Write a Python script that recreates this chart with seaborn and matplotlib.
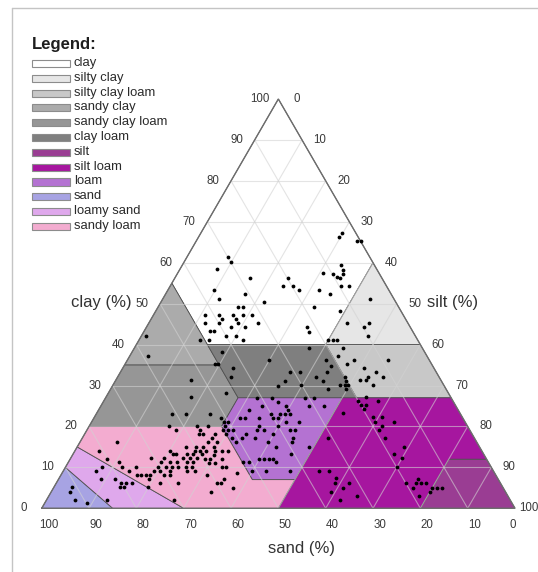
import numpy as np
import pandas as pd
import matplotlib
matplotlib.use("Agg")
import matplotlib.pyplot as plt
import seaborn as sns
from matplotlib.patches import Polygon, Rectangle
from matplotlib.lines import Line2D

# ---------------- data ----------------
class_names = ["clay", "silty clay", "silty clay loam", "sandy clay", "sandy clay loam",
               "clay loam", "silt", "silt loam", "loam", "sand", "loamy sand", "sandy loam"]
class_colors = ["#ffffff", "#e6e6e6", "#c8c8c8", "#ababab", "#969696", "#7f7f7f",
                "#9a3d93", "#a6169f", "#b472d2", "#a7a3e3", "#dfa8ec", "#f3acd0"]
# class boundaries, vertices as (clay %, silt %); sand = 100 - clay - silt
clay_poly = [(55, 0), (100, 0), (60, 40), (40, 40), (40, 15)]
silty_clay_poly = [(60, 40), (40, 60), (40, 40)]
silty_clay_loam_poly = [(27, 53), (27, 73), (40, 60), (40, 40)]
sandy_clay_poly = [(35, 0), (55, 0), (35, 20)]
sandy_clay_loam_poly = [(20, 0), (20, 28), (27, 28), (35, 20), (35, 0)]
clay_loam_poly = [(27, 28), (27, 53), (40, 40), (40, 15)]
silt_poly = [(0, 80), (0, 100), (12, 88), (12, 80)]
silt_loam_poly = [(0, 50), (0, 80), (12, 80), (12, 88), (27, 73), (27, 50), (7, 50)]
loam_poly = [(7, 41), (7, 50), (27, 50), (27, 28), (20, 28)]
sand_poly = [(0, 0), (0, 15), (10, 0)]
loamy_sand_poly = [(0, 15), (0, 30), (15, 0), (10, 0)]
sandy_loam_poly = [(0, 30), (0, 50), (7, 50), (7, 41), (20, 28), (20, 0), (15, 0)]
class_polys = [clay_poly, silty_clay_poly, silty_clay_loam_poly, sandy_clay_poly,
               sandy_clay_loam_poly, clay_loam_poly, silt_poly, silt_loam_poly,
               loam_poly, sand_poly, loamy_sand_poly, sandy_loam_poly]

tick_values = [0, 10, 20, 30, 40, 50, 60, 70, 80, 90, 100]
tick_labels = ["0", "10", "20", "30", "40", "50", "60", "70", "80", "90", "100"]

sample_clay = [
    61.3, 60.2, 58.4, 56.3, 56.3, 54.2, 54.2, 53.3, 53.3, 52.4, 51.2, 50.3,
    57.4, 57.2, 56.5, 59.4, 58.2, 57.2, 56.3, 54.3, 54.2, 66.2, 67.3, 65.3, 65.3,
    53.3, 52.4, 49.3, 49.3, 49.3, 47.2, 47.2, 47.2, 47.2, 47.2, 46.2, 46.2,
    45.2, 45.2, 45.2, 45.2, 44.2, 44.2, 44.2, 43.1, 43.2, 43.2, 42.2, 42.2,
    41.1, 41.1, 41.1, 41.1, 41.1, 41.1,
    51.1, 48.3, 45.2, 44.2, 45.2, 42.2,
    38.3, 39.2, 39.1, 35.2, 35.2, 36.2, 34.2, 32.2, 33.2, 33.2, 31.2, 30.0,
    30.1, 32.2, 31.2, 29.1, 36.2, 34.8, 33.4, 28.2, 37.2, 35.3, 36.2, 36.2,
    34.2, 33.2, 32.2, 31.3, 31.3, 32.2, 30.1, 32.2, 31.1, 30.1, 30.1, 29.1, 30.1,
    42.1, 37.2, 31.3, 27.1, 23.1, 23.1, 23.1,
    20.1, 19.2, 20.1, 18.1, 16.1, 14.1, 15.0, 15.0, 14.1, 14.1, 13.2, 13.2,
    13.2, 13.2, 12.2, 12.2, 12.2, 12.2, 12.2, 12.0, 11.2, 11.2, 11.2, 11.2,
    11.2, 11.2, 10.2, 10.2, 10.2, 10.2, 10.2, 10.2, 10.2, 10.2, 10.2,
    9.1, 9.1, 9.1, 9.1, 9.1, 9.1, 9.1, 8.1, 8.1, 8.1, 8.1, 8.1, 8.1,
    7.2, 7.2, 7.2, 6.3, 6.3, 6.3, 6.1, 6.1, 5.1, 5.1, 5.1, 5.1, 4.1, 2.0, 1.2, 2.0, 2.0,
    20.2, 19.1, 18.2, 18.2, 17.1, 16.1, 16.1, 15.0, 15.0, 14.1, 14.1, 14.1,
    13.2, 13.0, 12.0, 12.0, 11.0, 11.0, 8.1, 4.1, 6.1, 6.1, 5.0, 7.2, 8.6,
    10.2, 10.2, 12.0, 14.1, 14.1,
    27.0, 27.0, 27.0, 27.0, 25.1, 26.0, 25.1, 25.1, 25.1, 24.0, 24.0, 23.1,
    23.1, 23.1, 23.1, 22.1, 22.1, 22.1, 22.1, 22.1, 21.2, 21.2, 22.1, 21.2,
    21.2, 20.2, 20.2, 20.2, 19.1, 19.1, 19.1, 19.1, 19.1, 19.1, 19.1, 18.2,
    18.2, 18.2, 17.1, 17.1, 17.2, 17.2, 16.1, 16.1, 16.1, 15.0, 15.0, 13.2,
    12.0, 12.0, 12.0, 12.0, 11.2, 11.2, 11.2, 9.1, 9.1, 9.1,
    17.2, 9.0, 9.0, 7.3, 6.1, 6.1, 5.0, 4.1, 3.0, 2.0,
    23.2, 27.1, 26.2, 26.2, 25.2, 25.2, 24.3, 22.2, 22.2, 21.2, 21.2, 20.2,
    19.2, 17.1, 15.0, 13.2, 12.2, 10.2,
    6.1, 7.1, 6.1, 6.1, 6.1, 5.0, 5.0, 5.0, 5.0, 4.1, 3.1,
]
sample_silt = [
    8.7, 9.9, 7.8, 15.8, 23.9, 23.9, 25.9, 27.7, 9.8, 16.8, 11.9, 21.8,
    30.7, 33.0, 34.1, 33.5, 34.5, 35.0, 34.9, 36.0, 37.9, 29.8, 29.9, 33.9, 34.9,
    31.9, 34.8, 32.8, 16.9, 17.9, 10.9, 13.9, 16.9, 18.9, 20.9, 14.9, 17.9,
    11.8, 14.9, 18.9, 23.0, 17.8, 20.9, 33.9, 34.9, 14.0, 14.9, 17.8, 20.0,
    14.8, 12.8, 21.9, 40.0, 40.9, 41.9,
    43.9, 38.9, 41.8, 45.9, 46.6, 47.9,
    18.9, 36.9, 44.1, 19.0, 19.7, 29.9, 23.4, 23.8, 35.9, 38.0, 35.8, 35.0,
    39.8, 41.9, 43.9, 46.0, 42.0, 43.7, 43.6, 24.8, 43.9, 46.8, 47.9, 55.0,
    50.9, 54.0, 52.9, 51.7, 52.8, 56.0, 55.0, 48.0, 48.8, 49.0, 49.7, 49.8, 47.9,
    0.9, 3.9, 15.9, 17.9, 15.9, 18.9, 24.0,
    16.9, 18.8, 22.8, 24.1, 7.9, 5.0, 23.0, 25.1, 20.1, 25.4, 21.1, 21.8,
    24.2, 25.3, 17.0, 19.8, 23.8, 25.2, 26.7, 7.9, 10.8, 19.6, 21.5, 22.9,
    25.0, 26.4, 7.7, 11.8, 14.8, 19.4, 21.2, 22.4, 23.8, 25.3, 26.6,
    6.9, 13.9, 19.2, 20.4, 22.5, 26.2, 27.8, 16.0, 16.9, 17.9, 18.9, 21.8, 23.0,
    8.9, 11.9, 19.1, 13.6, 14.7, 15.9, 21.9, 25.8, 13.9, 14.9, 19.9, 3.9, 4.0, 6.0, 8.9, 12.9, 27.0,
    25.0, 23.8, 25.0, 27.5, 27.5, 27.0, 29.0, 26.6, 28.8, 26.4, 27.7, 29.6,
    27.2, 29.8, 28.4, 29.6, 29.9, 31.1, 30.9, 33.8, 33.9, 34.9, 38.0, 34.9, 37.0,
    32.9, 33.8, 32.0, 31.0, 32.4,
    31.9, 35.1, 42.1, 44.0, 34.0, 37.0, 39.1, 44.0, 47.0, 31.9, 40.0, 36.9,
    38.8, 39.8, 40.9, 30.9, 32.0, 34.9, 37.8, 38.9, 41.0, 43.8, 26.9, 27.9,
    28.8, 28.6, 35.9, 39.9, 28.8, 29.8, 30.9, 36.0, 37.4, 42.9, 43.9, 29.8,
    34.0, 39.8, 31.7, 33.8, 36.5, 44.4, 33.0, 39.8, 44.9, 42.0, 49.0, 46.0,
    40.0, 41.0, 42.0, 42.9, 37.0, 38.1, 43.9, 39.9, 42.9, 47.9,
    51.8, 54.1, 56.1, 58.5, 58.9, 61.9, 61.1, 59.1, 65.1, 62.0,
    52.0, 54.9, 53.8, 57.9, 54.8, 55.9, 55.9, 58.8, 60.8, 59.8, 63.8, 61.9,
    61.7, 63.9, 69.1, 67.8, 70.0, 69.9,
    74.0, 76.0, 76.0, 77.0, 78.1, 76.0, 79.9, 81.0, 82.0, 80.0, 78.1,
]

# ---------------- helpers ----------------
H = np.sqrt(3) / 2


def tern(clay, silt):
    clay = np.asarray(clay, dtype=float)
    silt = np.asarray(silt, dtype=float)
    return silt + clay / 2.0, clay * H


# pixel layout of the 538x572 canvas
W_PX, H_PX = 538, 572
X0, Y0 = 41.7, 508.3          # pixel position of 100 % sand corner
SX, SY = 4.733, 4.726         # pixels per data unit


def px(xp, yp):
    return (xp - X0) / SX, (Y0 - yp) / SY


sns.set_style("white")
plt.rcParams['font.family'] = ['Liberation Sans', 'DejaVu Sans']

fig = plt.figure(figsize=(W_PX / 100, H_PX / 100), dpi=100)
ax = fig.add_axes([0, 0, 1, 1])

# frame of the picture (left and top border)
fig.add_artist(Line2D([12 / W_PX, 12 / W_PX], [0, 1 - 8 / H_PX], color="#c4c4c4", lw=1.0))
fig.add_artist(Line2D([12 / W_PX, 1], [1 - 8 / H_PX, 1 - 8 / H_PX], color="#c4c4c4", lw=1.0))

# class polygons
for poly, col in zip(class_polys, class_colors):
    c, s = zip(*poly)
    xs, ys = tern(c, s)
    ax.add_patch(Polygon(np.column_stack([xs, ys]), closed=True, facecolor=col,
                         edgecolor="#505050", lw=0.6, zorder=1))

# grid lines every 10 %
for v in range(10, 100, 10):
    segs = [((v, 0), (v, 100 - v)),            # constant clay
            ((0, v), (100 - v, v)),            # constant silt
            ((0, 100 - v), (100 - v, 0))]      # constant sand
    for (c1, s1), (c2, s2) in segs:
        xa, ya = tern([c1, c2], [s1, s2])
        ax.plot(xa, ya, color="#d2d2d2", lw=0.8, alpha=0.6, zorder=2)

# triangle outline
xo, yo = tern([0, 100, 0, 0], [0, 0, 100, 0])
ax.plot(xo, yo, color="#6e6e6e", lw=1.0, zorder=3, solid_joinstyle="miter")

# sample points
px_x, px_y = tern(sample_clay, sample_silt)
df = pd.DataFrame({"x": px_x, "y": px_y})
sns.scatterplot(data=df, x="x", y="y", color="black", s=7.5, linewidth=0, ax=ax, zorder=4)
ax.set_xlim(px(0, 0)[0], px(W_PX, 0)[0])
ax.set_ylim(px(0, H_PX)[1], px(0, 0)[1])
ax.axis('off')

# tick labels
tick_fs = 8.3
tcol = "#3a3a3a"
off_l = 18 / SX
for v, lab in zip(tick_values, tick_labels):
    # clay (left side)
    xl, yl = tern(v, 0)
    ax.text(xl - off_l, yl, lab, ha="center", va="center", fontsize=tick_fs, color=tcol)
    # silt (right side)
    xr, yr = tern(100 - v, v)
    dr = (13.5 if v == 100 else 18) / SX
    ax.text(xr + dr, yr, lab, ha="center", va="center", fontsize=tick_fs, color=tcol)
    # sand (bottom)
    xb, yb = tern(0, 100 - v)
    dx = (-2 if v == 0 else 7) / SX
    ax.text(xb + dx, px(0, 525)[1], lab, ha="center", va="center", fontsize=tick_fs, color=tcol)

# axis titles
lcol = "#333333"
ax.text(*px(101.7, 302), "clay (%)", ha="center", va="center", fontsize=12, color=lcol)
ax.text(*px(453, 302), "silt (%)", ha="center", va="center", fontsize=12, color=lcol)
ax.text(*px(301, 548), "sand (%)", ha="center", va="center", fontsize=12, color=lcol)

# legend
ax.text(*px(32.3, 45), "Legend:", ha="left", va="center", fontsize=12,
        fontweight="bold", color="#1e1e1e")
for i, (name, col) in enumerate(zip(class_names, class_colors)):
    yc = 63.5 + 14.8 * i
    x1, y1 = px(32.3, yc + 3.6)
    x2, y2 = px(70.0, yc - 3.6)
    ax.add_patch(Rectangle((x1, y1), x2 - x1, y2 - y1, facecolor=col,
                           edgecolor="#8c8c8c", lw=0.8, zorder=5))
    ax.text(*px(74, yc - 0.5), name, ha="left", va="center", fontsize=9.4, color="#2a2a2a")

fig.savefig("out.png", dpi=100)
